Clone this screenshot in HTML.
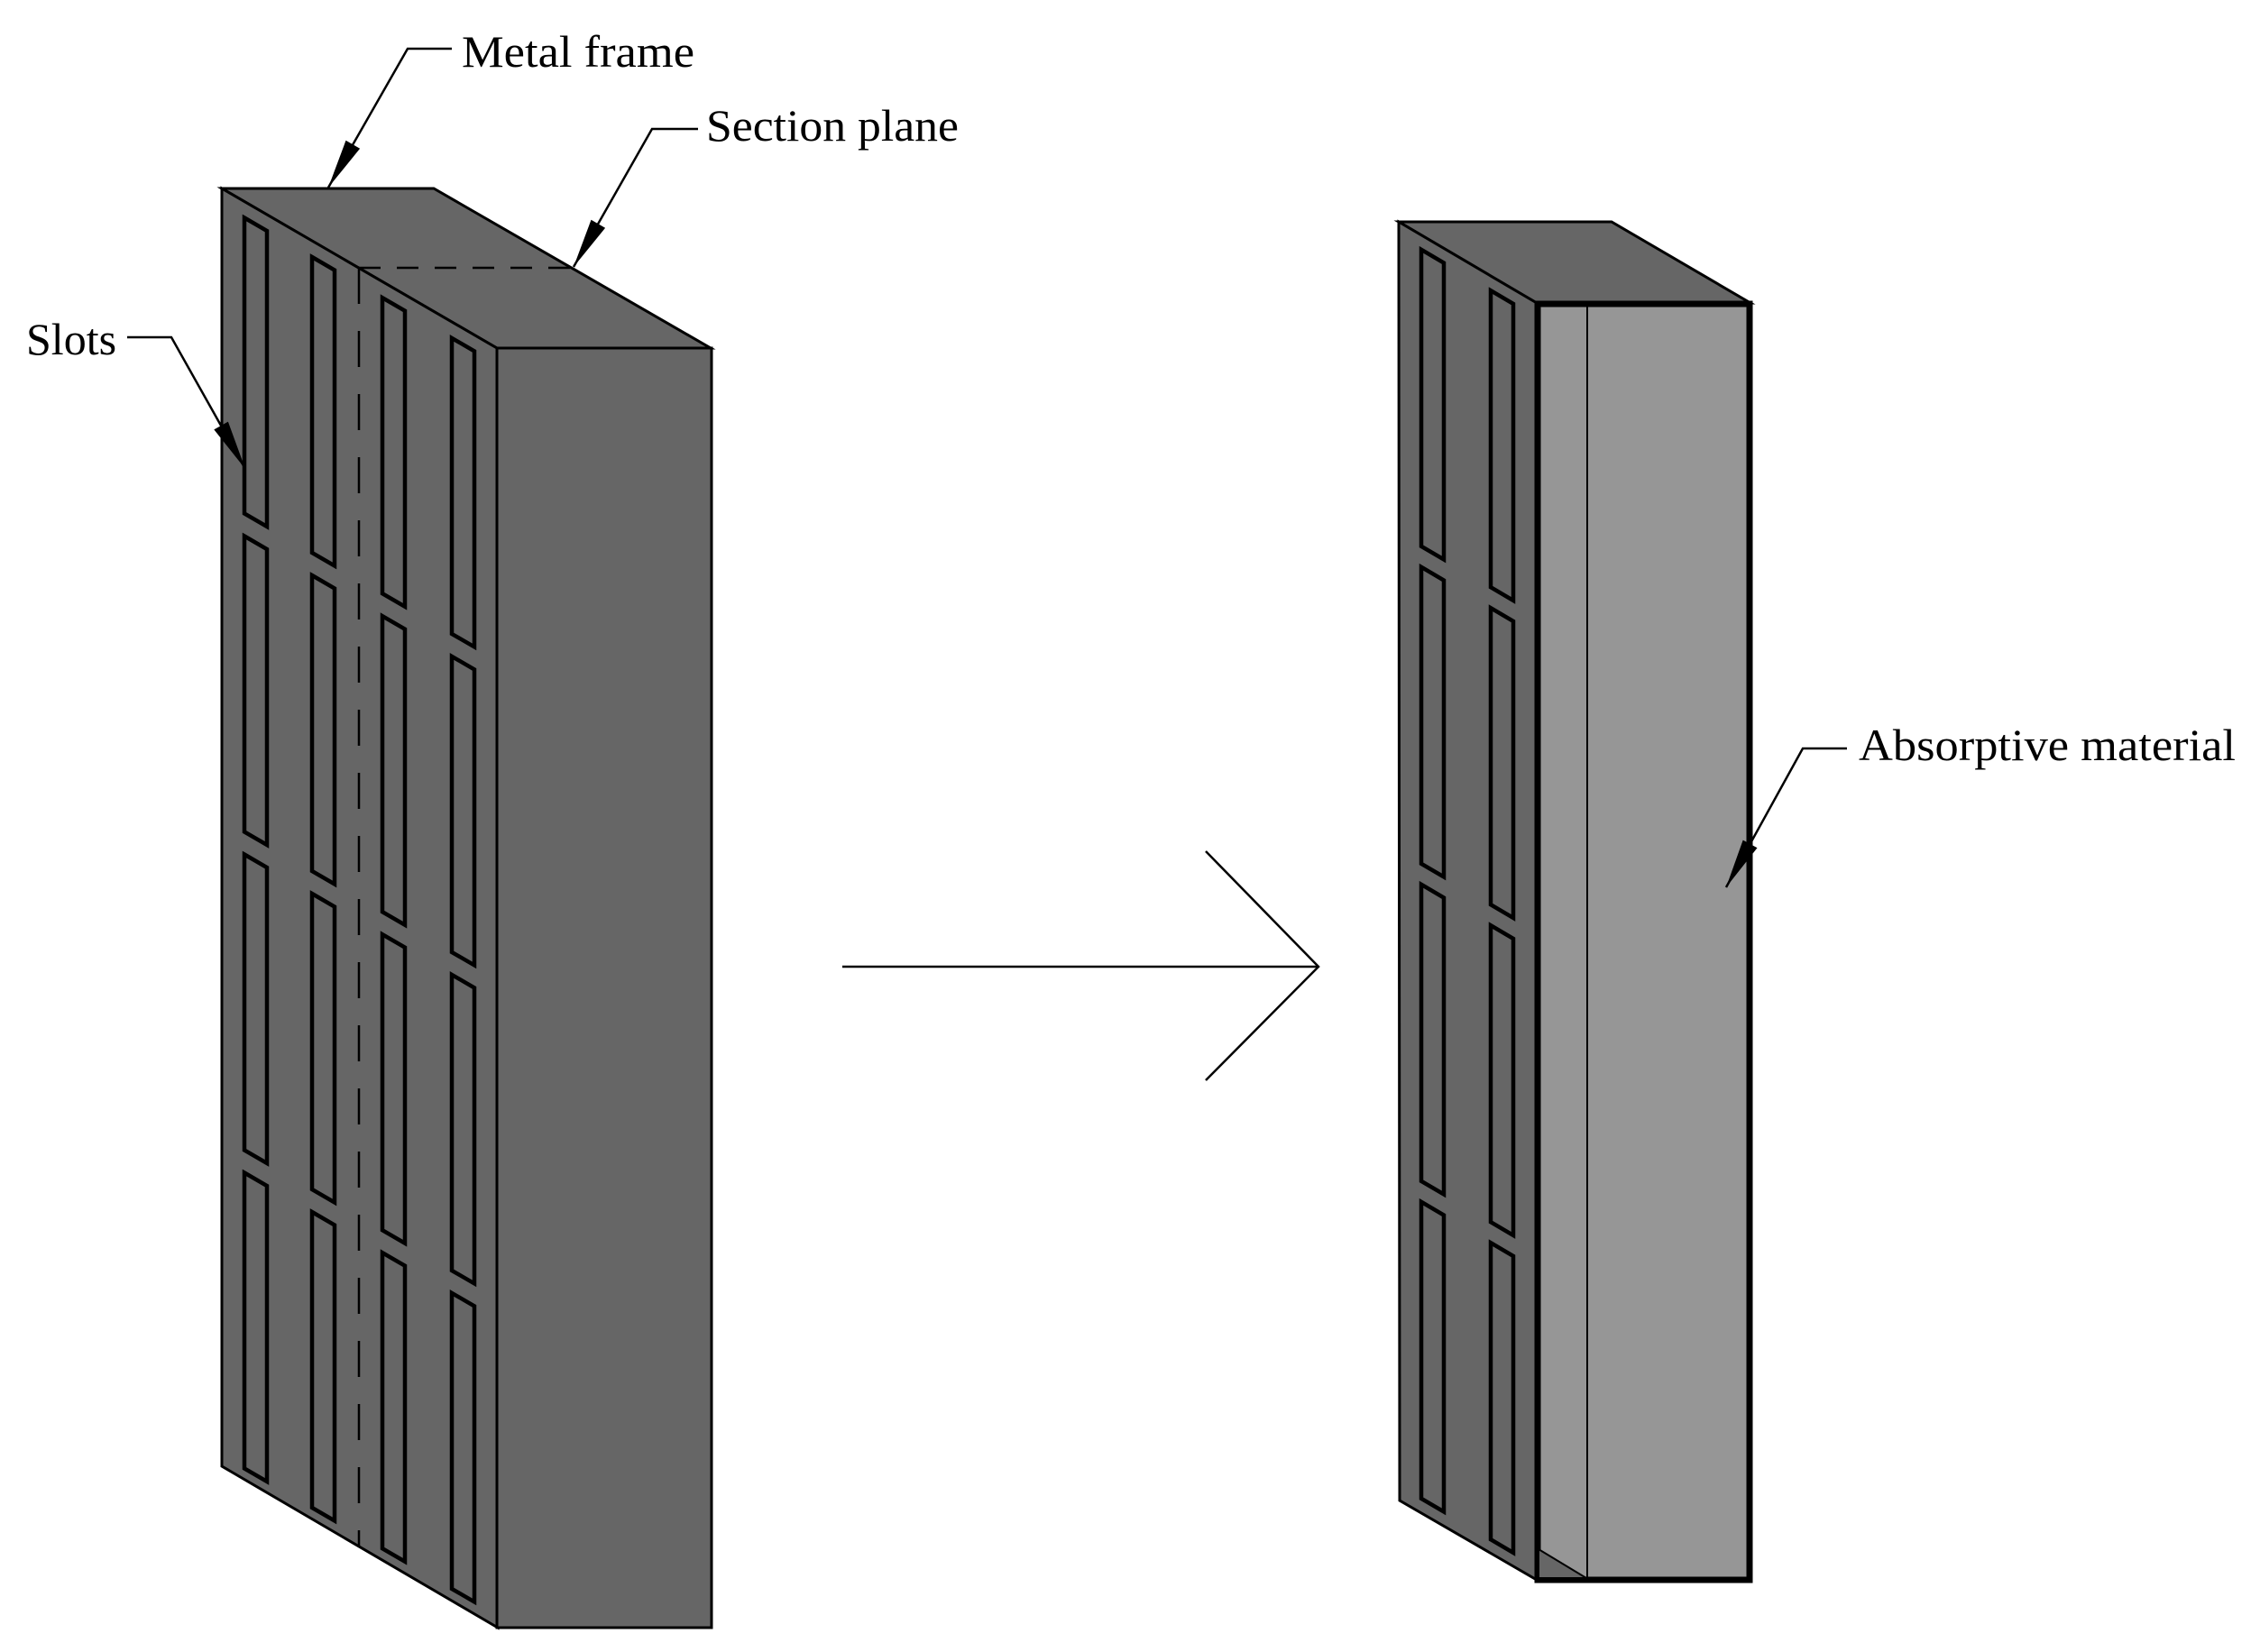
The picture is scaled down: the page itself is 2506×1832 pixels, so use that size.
<!DOCTYPE html>
<html><head><meta charset="utf-8"><style>
html,body{margin:0;padding:0;background:#fff;}
svg{display:block;}
text{font-family:"Liberation Serif",serif;font-size:50px;fill:#000;}
</style></head><body>
<svg width="2506" height="1832" viewBox="0 0 2506 1832" xmlns="http://www.w3.org/2000/svg">
<g stroke="#000" stroke-linejoin="miter" fill="#666">
<!-- left block -->
<polygon points="246,209 481,209 788,386 551,386" stroke-width="3"/>
<polygon points="246,209 551,386 552,1805 246,1626" stroke-width="3"/>
<rect x="551" y="386" width="238" height="1419" stroke-width="3"/>
<g stroke-width="4.5">
<polygon points="271,241.5 296,256 296,584 271,569.5"/>
<polygon points="271,594.5 296,609 296,937 271,922.5"/>
<polygon points="271,947.5 296,962 296,1290 271,1275.5"/>
<polygon points="271,1300.5 296,1315 296,1643 271,1628.5"/>
<polygon points="346,285 371,299.5 371,627.5 346,613"/>
<polygon points="346,638 371,652.5 371,980.5 346,966"/>
<polygon points="346,991 371,1005.5 371,1333.5 346,1319"/>
<polygon points="346,1344 371,1358.5 371,1686.5 346,1672"/>
<polygon points="424,330.2 449,344.7 449,672.7 424,658.2"/>
<polygon points="424,683.2 449,697.7 449,1025.7 424,1011.2"/>
<polygon points="424,1036.2 449,1050.7 449,1378.7 424,1364.2"/>
<polygon points="424,1389.2 449,1403.7 449,1731.7 424,1717.2"/>
<polygon points="501,374.9 526,389.4 526,717.4 501,702.9"/>
<polygon points="501,727.9 526,742.4 526,1070.4 501,1055.9"/>
<polygon points="501,1080.9 526,1095.4 526,1423.4 501,1408.9"/>
<polygon points="501,1433.9 526,1448.4 526,1776.4 501,1761.9"/>
</g>
<line x1="398" y1="297" x2="636" y2="297" stroke-width="2.5" stroke-dasharray="24,18"/>
<line x1="398" y1="297" x2="398" y2="1715" stroke-width="2.5" stroke-dasharray="40,30"/>

<!-- right block -->
<polygon points="1551,246 1787,246 1941,336 1704,336" stroke-width="3"/>
<polygon points="1551,246 1704,336 1704,1752 1552,1664" stroke-width="3"/>
<g stroke-width="4.5">
<polygon points="1576,276.8 1601,291.5 1601,620.5 1576,605.8"/>
<polygon points="1576,628.8 1601,643.5 1601,972.5 1576,957.8"/>
<polygon points="1576,980.8 1601,995.5 1601,1324.5 1576,1309.8"/>
<polygon points="1576,1332.8 1601,1347.5 1601,1676.5 1576,1661.8"/>
<polygon points="1653,322.2 1678,336.9 1678,665.9 1653,651.2"/>
<polygon points="1653,674.2 1678,688.9 1678,1017.9 1653,1003.2"/>
<polygon points="1653,1026.2 1678,1040.9 1678,1369.9 1653,1355.2"/>
<polygon points="1653,1378.2 1678,1392.9 1678,1721.9 1653,1707.2"/>
</g>
<rect x="1706" y="338" width="233" height="1413" fill="#969696" stroke-width="5"/>
<polygon points="1706,1718 1759,1750 1706,1750" fill="#666" stroke-width="2"/>
<line x1="1760" y1="338" x2="1760" y2="1750" stroke-width="2"/>
<rect x="1704" y="336" width="237" height="1417" fill="none" stroke-width="5"/>
</g>

<!-- big arrow -->
<g stroke="#000" stroke-width="2.5" fill="none">
<line x1="934" y1="1072" x2="1462" y2="1072"/>
<polyline points="1337,944 1462,1072 1337,1198"/>
</g>

<!-- leaders -->
<g stroke="#000" stroke-width="2.5" fill="none">
<polyline points="501,54 452,54 364,208"/>
<polyline points="774,143 723,143 636,296"/>
<polyline points="141,374 190,374 272,520"/>
<polyline points="2048,830 1999,830 1914,984"/>
</g>
<g fill="#000">
<polygon points="364,208 399.1,164.8 383.5,155.8"/>
<polygon points="636,296 671.1,252.8 655.5,243.8"/>
<polygon points="272,520 237.3,476.4 252.9,467.6"/>
<polygon points="1914,984 1948.5,940.2 1932.7,931.6"/>
</g>

<text x="512" y="74" textLength="258" lengthAdjust="spacingAndGlyphs">Metal frame</text>
<text x="783" y="156" textLength="280" lengthAdjust="spacingAndGlyphs">Section plane</text>
<text x="29" y="393">Slots</text>
<text x="2061" y="843" textLength="418" lengthAdjust="spacingAndGlyphs">Absorptive material</text>
</svg>
</body></html>
